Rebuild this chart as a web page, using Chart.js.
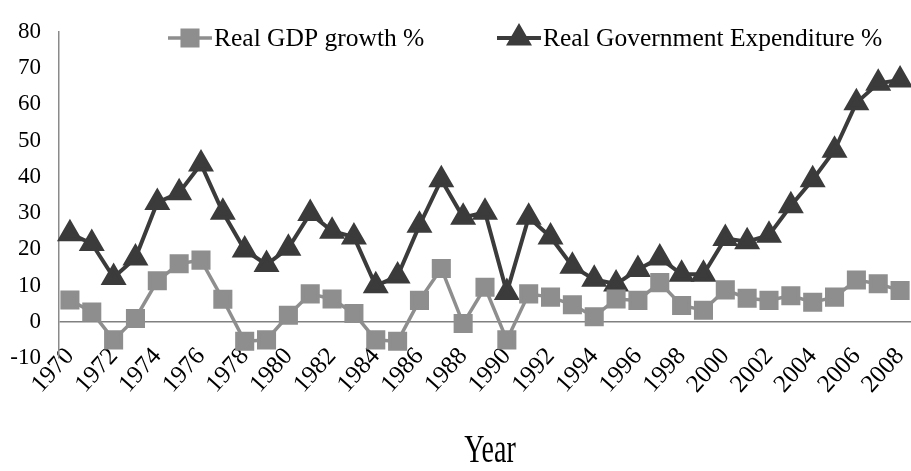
<!DOCTYPE html>
<html>
<head>
<meta charset="utf-8">
<script src="https://cdn.jsdelivr.net/npm/chart.js@4/dist/chart.umd.min.js"></script>
<style>
  html, body { margin: 0; padding: 0; background: #fff; }
  #wrap { width: 911px; height: 471px; position: relative; }
</style>
</head>
<body>
<div id="wrap"><canvas id="c" width="911" height="471"></canvas></div>
<script>
const years = ['1970','1971','1972','1973','1974','1975','1976','1977','1978','1979',
  '1980','1981','1982','1983','1984','1985','1986','1987','1988','1989',
  '1990','1991','1992','1993','1994','1995','1996','1997','1998','1999',
  '2000','2001','2002','2003','2004','2005','2006','2007','2008'];
const gdpGrowth = [6.0, 2.7, -5.0, 0.9, 11.3, 16.0, 17.0, 6.2, -5.4, -5.0,
  1.8, 7.7, 6.3, 2.3, -5.0, -5.4, 5.9, 14.7, -0.5, 9.5,
  -5.0, 7.7, 6.8, 4.7, 1.4, 6.3, 5.9, 10.8, 4.5, 3.2,
  8.8, 6.5, 5.9, 7.2, 5.4, 6.8, 11.5, 10.5, 8.6];
const govExpenditure = [24.3, 21.6, 12.2, 17.6, 32.9, 35.6, 43.5, 30.2, 19.8, 15.8,
  20.3, 29.9, 25.0, 23.4, 9.9, 12.6, 26.6, 39.2, 28.8, 30.2,
  8.1, 28.8, 23.4, 15.3, 11.7, 10.4, 14.4, 17.6, 13.1, 13.1,
  23.0, 22.1, 23.9, 32.0, 39.2, 47.3, 60.4, 65.8, 66.7];
const yTicks = { min: -10, max: 80, step: 10 };
const seriesNames = ['Real GDP growth %', 'Real Government Expenditure %'];
const xTitle = 'Year';

const GDP_COLOR = '#8e8e8e';
const GOV_COLOR = '#3b3b3b';
const SERIF = '"Liberation Serif", "Times New Roman", serif';

const customLegend = {
  id: 'customLegend',
  afterDraw(chart) {
    const ctx = chart.ctx;
    const items = [
      { x: 168, ds: chart.data.datasets[0] },
      { x: 497, ds: chart.data.datasets[1] }
    ];
    const y = 38;
    ctx.save();
    ctx.font = '25.5px ' + SERIF;
    ctx.textBaseline = 'middle';
    items.forEach(it => {
      const ds = it.ds;
      ctx.strokeStyle = ds.borderColor;
      ctx.lineWidth = ds.borderWidth;
      ctx.beginPath();
      ctx.moveTo(it.x, y);
      ctx.lineTo(it.x + 44, y);
      ctx.stroke();
      ctx.fillStyle = ds.pointBackgroundColor;
      ctx.strokeStyle = ds.pointBorderColor;
      Chart.helpers.drawPoint(ctx, {
        pointStyle: ds.pointStyle, rotation: 0,
        radius: ds.pointRadius, borderWidth: 1
      }, it.x + 22, y);
      ctx.fillStyle = '#000';
      ctx.textAlign = 'left';
      ctx.fillText(ds.label, it.x + 46, y + 1);
    });
    // x-axis title (condensed, as in the reference)
    ctx.font = '40px ' + SERIF;
    ctx.textAlign = 'center';
    ctx.textBaseline = 'middle';
    ctx.translate(490, 451);
    ctx.scale(0.7, 1);
    ctx.fillText(xTitle, 0, 0);
    ctx.restore();
  }
};

new Chart(document.getElementById('c'), {
  type: 'line',
  data: {
    labels: years,
    datasets: [
      {
        label: seriesNames[0],
        data: gdpGrowth,
        borderColor: GDP_COLOR,
        backgroundColor: GDP_COLOR,
        pointBackgroundColor: GDP_COLOR,
        pointBorderColor: GDP_COLOR,
        borderWidth: 3.5,
        pointStyle: 'rect',
        pointRadius: 11,
        tension: 0,
        clip: false
      },
      {
        label: seriesNames[1],
        data: govExpenditure,
        borderColor: GOV_COLOR,
        backgroundColor: GOV_COLOR,
        pointBackgroundColor: GOV_COLOR,
        pointBorderColor: GOV_COLOR,
        borderWidth: 4,
        pointStyle: 'triangle',
        pointRadius: 11,
        tension: 0,
        clip: false
      }
    ]
  },
  options: {
    responsive: false,
    animation: false,
    devicePixelRatio: 1,
    layout: { autoPadding: false, padding: { top: 22, right: 0, left: 0, bottom: 0 } },
    plugins: {
      legend: { display: false },
      tooltip: { enabled: false }
    },
    scales: {
      x: {
        offset: true,
        grid: { display: false, drawTicks: false },
        border: { display: false },
        ticks: {
          autoSkip: false,
          maxRotation: 48,
          minRotation: 48,
          padding: -16,
          color: '#000',
          font: { family: SERIF, size: 25 },
          callback: function(val, idx) { return idx % 2 === 0 ? this.getLabelForValue(val) : ''; }
        },
        title: { display: false, text: xTitle },
        afterFit(scale) { scale.height = 113; scale.paddingRight = 0; scale.paddingLeft = 0; },
        afterUpdate(scale) { scale._computeLabelArea = function() { return undefined; }; }
      },
      y: {
        min: yTicks.min,
        max: yTicks.max,
        ticks: {
          stepSize: yTicks.step,
          color: '#000',
          padding: 18,
          font: { family: SERIF, size: 23 }
        },
        grid: {
          drawTicks: false,
          color: ctx => (ctx.tick && ctx.tick.value === 0) ? '#808080' : 'rgba(0,0,0,0)',
          lineWidth: 1.5
        },
        border: { display: true, color: '#8a8a8a', width: 1.5 },
        afterFit(scale) { scale.width = 59; }
      }
    }
  },
  plugins: [customLegend]
});
</script>
</body>
</html>
